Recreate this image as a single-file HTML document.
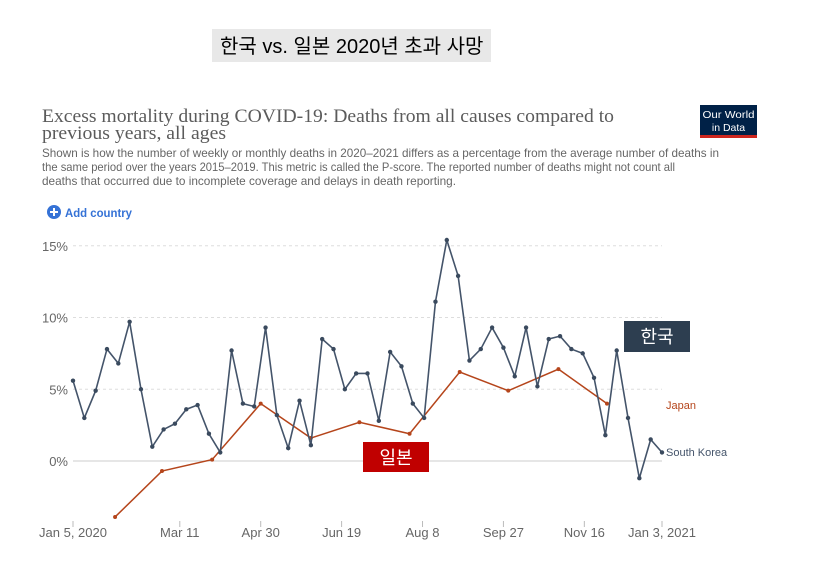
<!DOCTYPE html>
<html><head><meta charset="utf-8"><style>
body{margin:0;background:#fff;width:813px;height:580px;overflow:hidden}
svg{display:block}
</style></head><body>
<svg width="813" height="580" xmlns="http://www.w3.org/2000/svg">
<rect x="212" y="29" width="279" height="33" fill="#e8e8e8"/>
<text x="220" y="53" font-family="Liberation Sans, Noto Sans CJK KR, sans-serif" font-size="20" fill="#000">한국 vs. 일본 2020년 초과 사망</text>
<g font-family="Liberation Serif, serif" font-size="19" fill="#5b5b5b">
<text x="42" y="122" textLength="572" lengthAdjust="spacingAndGlyphs">Excess mortality during COVID-19: Deaths from all causes compared to</text>
<text x="42" y="139" textLength="184" lengthAdjust="spacingAndGlyphs">previous years, all ages</text>
</g>
<g font-family="Liberation Sans, sans-serif" font-size="12" fill="#666">
<text x="42" y="157" textLength="677" lengthAdjust="spacingAndGlyphs">Shown is how the number of weekly or monthly deaths in 2020–2021 differs as a percentage from the average number of deaths in</text>
<text x="42" y="171" textLength="633" lengthAdjust="spacingAndGlyphs">the same period over the years 2015–2019. This metric is called the P-score. The reported number of deaths might not count all</text>
<text x="42" y="185" textLength="414" lengthAdjust="spacingAndGlyphs">deaths that occurred due to incomplete coverage and delays in death reporting.</text>
</g>
<g>
<rect x="700" y="105" width="57" height="33" fill="#002147"/>
<rect x="700" y="135" width="57" height="3" fill="#ce261e"/>
<text x="728.5" y="118" text-anchor="middle" font-family="Liberation Sans, sans-serif" font-size="10.5" fill="#fff" textLength="52" lengthAdjust="spacingAndGlyphs">Our World</text>
<text x="728.5" y="131" text-anchor="middle" font-family="Liberation Sans, sans-serif" font-size="10.5" fill="#fff">in Data</text>
</g>
<g>
<circle cx="54" cy="212" r="7" fill="#3572d6"/>
<path d="M50 212h8M54 208v8" stroke="#fff" stroke-width="2"/>
<text x="65" y="217" font-family="Liberation Sans, sans-serif" font-size="12" font-weight="bold" fill="#3572d6" textLength="67" lengthAdjust="spacingAndGlyphs">Add country</text>
</g>
<g id="plot"></g>
<rect x="624" y="321" width="66" height="31" fill="#2d3e50"/>
<text x="657" y="343" text-anchor="middle" font-family="Liberation Sans, Noto Sans CJK KR, sans-serif" font-size="18" fill="#fff">한국</text>
<rect x="363" y="442" width="66" height="30" fill="#c00000"/>
<text x="396" y="464" text-anchor="middle" font-family="Liberation Sans, Noto Sans CJK KR, sans-serif" font-size="18" fill="#fff">일본</text>
</svg>
<script>
const korea=[5.6,3.0,4.9,7.8,6.8,9.7,5.0,1.0,2.2,2.6,3.6,3.9,1.9,0.6,7.7,4.0,3.8,9.3,3.2,0.9,4.2,1.1,8.5,7.8,5.0,6.1,6.1,2.8,7.6,6.6,4.0,3.0,11.1,15.4,12.9,7.0,7.8,9.3,7.9,5.9,9.3,5.2,8.5,8.7,7.8,7.5,5.8,1.8,7.7,3.0,-1.2,1.5,0.6];
const japanDays=[26,55,86,116,147,177,208,239,269,300,330];
const japan=[-3.9,-0.7,0.1,4.0,1.6,2.7,1.9,6.2,4.9,6.4,4.0];
const yTicks=[0,5,10,15];
const xTickDays=[0,66,116,166,216,266,316,364];
const xTickLabels=["Jan 5, 2020","Mar 11","Apr 30","Jun 19","Aug 8","Sep 27","Nov 16","Jan 3, 2021"];
const NS="http://www.w3.org/2000/svg";
const g=document.getElementById('plot');
const X=d=>73+d*589/364;
const Y=v=>461-v*14.35;
function mk(t,a,p){const e=document.createElementNS(NS,t);for(const k in a)e.setAttribute(k,a[k]);(p||g).appendChild(e);return e;}
yTicks.forEach(v=>{
 const l=mk('line',{x1:73,x2:662,y1:Y(v),y2:Y(v),stroke:v===0?'#ccc':'#ddd','stroke-dasharray':v===0?'':'3,3'});
 
 
 const t=mk('text',{x:68,y:Y(v)+5,'text-anchor':'end','font-family':'Liberation Sans, sans-serif','font-size':13,fill:'#666'});
 t.textContent=v+'%';
 
 
});
xTickDays.forEach((d,i)=>{
 const l=mk('line',{x1:X(d),x2:X(d),y1:521,y2:527,stroke:'#bbb'});
 
 
 const t=mk('text',{x:X(d),y:537,'text-anchor':'middle','font-family':'Liberation Sans, sans-serif','font-size':13,fill:'#666'});
 t.textContent=xTickLabels[i];
 
 
});
const jp=japan.map((v,i)=>X(japanDays[i])+','+Y(v)).join(' ');
const jl=mk('polyline',{points:jp,fill:'none',stroke:'#b5451b','stroke-width':1.5});


japan.forEach((v,i)=>{const c=mk('circle',{cx:X(japanDays[i]),cy:Y(v),r:2,fill:'#b5451b'});
 
 });
const kp=korea.map((v,i)=>X(i*7)+','+Y(v)).join(' ');
const kl=mk('polyline',{points:kp,fill:'none',stroke:'#44546a','stroke-width':1.6});


korea.forEach((v,i)=>{const c=mk('circle',{cx:X(i*7),cy:Y(v),r:2.2,fill:'#3a4a5e'});
 
 });
const jt=mk('text',{x:666,y:409,'font-family':'Liberation Sans, sans-serif','font-size':11,fill:'#b5451b'});
jt.textContent='Japan';


const kt=mk('text',{x:666,y:456,'font-family':'Liberation Sans, sans-serif','font-size':11,fill:'#44546a'});
kt.textContent='South Korea';


</script>
</body></html>
